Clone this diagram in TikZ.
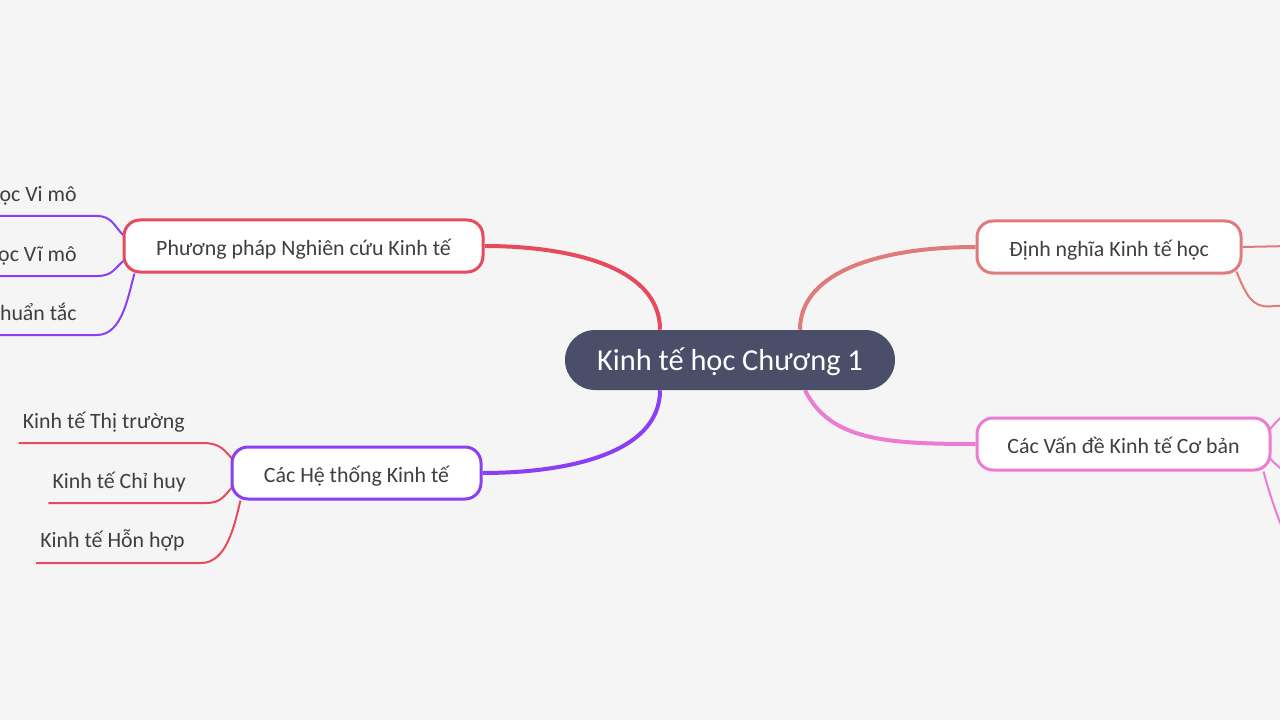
\documentclass[tikz,border=0pt]{standalone}
\usepackage{fontspec}
\setmainfont{Carlito}
\usetikzlibrary{calc}
\definecolor{bgc}{HTML}{F5F5F5}
\definecolor{cfill}{HTML}{4A4E69}
\definecolor{cred}{HTML}{E64A5C}
\definecolor{cpur}{HTML}{8A3FF5}
\definecolor{csal}{HTML}{E07B7B}
\definecolor{cpink}{HTML}{EC7BD3}
\definecolor{ctext}{HTML}{3F3F3F}
\pgfdeclarelayer{back}
\pgfdeclarelayer{bg}
\pgfsetlayers{back,bg,main}
\tikzset{
  central/.style={fill=cfill, text=white, rounded corners=22.5pt, inner sep=0pt,
    text height=1.72em, text depth=0.22em,
    minimum width=330*0.75pt, minimum height=60*0.75pt, font=\fontsize{22.8pt}{26pt}\selectfont},
  topic/.style={draw=#1, fill=white, line width=2.25pt, rounded corners=12pt, inner sep=0pt,
    text height=1.6em, text depth=0.22em,
    minimum height=52*0.75pt, text=ctext, font=\fontsize{16.4pt}{19pt}\selectfont},
  leaf/.style={inner sep=0pt, anchor=east, text=ctext, text height=1.5em, text depth=0.22em,
    font=\fontsize{16.4pt}{19pt}\selectfont},
  mainlink/.style={draw=#1, line width=3pt},
  leaflink/.style={draw=#1, line width=1.5pt},
}
\begin{document}
\begin{tikzpicture}[x=0.75pt, y=-0.75pt]
\useasboundingbox (0,0) rectangle (1280,720);
\begin{pgfonlayer}{back}
\fill[bgc] (0,0) rectangle (1280,720);
\end{pgfonlayer}
\clip (0,0) rectangle (1280,720);

\node[central] (c) at (730,360) {Kinh tế học Chương 1};
\node[topic=cred, minimum width=359*0.75pt] (P) at (303.5,246) {Phương pháp Nghiên cứu Kinh tế};
\node[topic=cpur, minimum width=249*0.75pt] (H) at (356.5,473) {Các Hệ thống Kinh tế};
\node[topic=csal, minimum width=264*0.75pt] (D) at (1109,247) {Định nghĩa Kinh tế học};
\node[topic=cpink, minimum width=293*0.75pt] (V) at (1123.5,444) {Các Vấn đề Kinh tế Cơ bản};

\node[leaf] (p1) at (77,193) {Kinh tế học Vi mô};
\node[leaf] (p2) at (77,253) {Kinh tế học Vĩ mô};
\node[leaf] (p3) at (77,312) {Kinh tế học Chuẩn tắc};
\node[leaf] (h1) at (185,420) {Kinh tế Thị trường};
\node[leaf] (h2) at (186,480) {Kinh tế Chỉ huy};
\node[leaf] (h3) at (185,539) {Kinh tế Hỗn hợp};

\coordinate (d1) at (1290,246);
\coordinate (d2) at (1290,305);
\coordinate (v1) at (1290,412);
\coordinate (v2) at (1290,474);
\coordinate (v3) at (1285,535);

\begin{pgfonlayer}{bg}
\path[mainlink=cred] ($(c.north)+(-70,0)$) .. controls ($(c.north)+(-70,-65)$) and ($(P.east)+(80,0)$) .. (P.east);
\path[mainlink=cpur] ($(c.south)+(-70,0)$) .. controls ($(c.south)+(-70,65)$) and ($(H.east)+(80,0)$) .. (H.east);
\path[mainlink=csal] ($(c.north)+(70,0)$) .. controls ($(c.north)+(70,-60)$) and ($(D.west)+(-90,0)$) .. (D.west);
\path[mainlink=cpink] ($(c.south)+(75,0)$) .. controls ($(c.south)+(100,50)$) and ($(V.west)+(-90,0)$) .. (V.west);

\path[leaflink=cpur] ($(p1.west)+(-200,23)$) -- ($(p1.east)+(20,23)$) .. controls ($(p1.east)+(36,23)$) and ($(P.west)+(-8,-18)$) .. ($(P.west)+(2,-10)$);
\path[leaflink=cpur] ($(p2.west)+(-200,23)$) -- ($(p2.east)+(20,23)$) .. controls ($(p2.east)+(36,23)$) and ($(P.west)+(-8,22)$) .. ($(P.west)+(2,14)$);
\path[leaflink=cpur] ($(p3.west)+(-200,23)$) -- ($(p3.east)+(20,23)$) .. controls ($(p3.east)+(46,23)$) and ($(P.south west)+(6,20)$) .. ($(P.south west)+(12,0)$);

\path[leaflink=cred] ($(h1.west)+(-4,23)$) -- ($(h1.east)+(18,23)$) .. controls ($(h1.east)+(36,23)$) and ($(H.west)+(-6,-22)$) .. ($(H.west)+(2,-14)$);
\path[leaflink=cred] ($(h2.west)+(-4,23)$) -- ($(h2.east)+(20,23)$) .. controls ($(h2.east)+(36,23)$) and ($(H.west)+(-6,22)$) .. ($(H.west)+(2,14)$);
\path[leaflink=cred] ($(h3.west)+(-4,24)$) -- ($(h3.east)+(16,24)$) .. controls ($(h3.east)+(42,24)$) and ($(H.south west)+(4,24)$) .. ($(H.south west)+(10,0)$);

\path[leaflink=csal] (D.east) -- (d1);
\path[leaflink=csal] ($(D.south east)+(-6,-3)$) .. controls ($(D.south east)+(4,22)$) and ($(D.south east)+(10,32)$) .. ($(D.south east)+(26,32)$) -- (d2);
\path[leaflink=cpink] ($(V.east)+(-2,-14)$) .. controls ($(V.east)+(4,-22)$) and ($(V.east)+(10,-28)$) .. (v1);
\path[leaflink=cpink] ($(V.east)+(-2,14)$) .. controls ($(V.east)+(6,22)$) and ($(V.east)+(10,26)$) .. (v2);
\path[leaflink=cpink] ($(V.south east)+(-8,0)$) .. controls ($(V.south east)+(0,30)$) and ($(V.south east)+(8,50)$) .. (v3);
\end{pgfonlayer}
\end{tikzpicture}
\end{document}
